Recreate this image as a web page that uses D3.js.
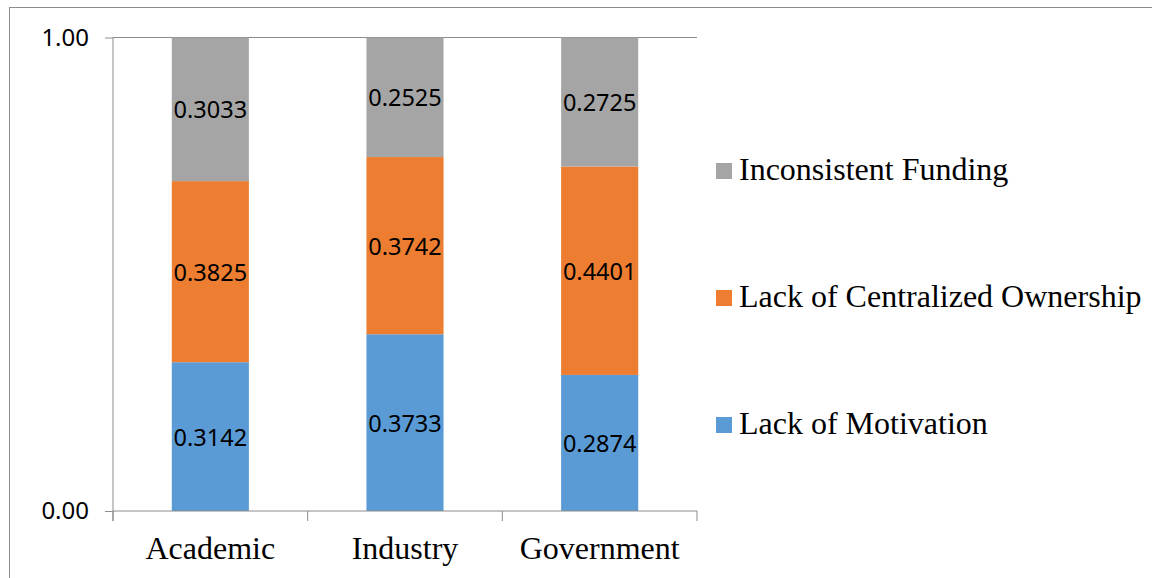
<!DOCTYPE html>
<html><head><meta charset="utf-8">
<script src="https://cdn.jsdelivr.net/npm/d3@7"></script>
<style>
html,body{margin:0;padding:0;background:#fff;}
svg{display:block;}
.serif{font-family:"Liberation Serif","Times New Roman",Times,Tinos,"DejaVu Serif",serif;}
.sans{font-family:"Noto Sans","Open Sans",sans-serif;}
</style></head>
<body>
<svg id="chart" width="1152" height="578"></svg>
<script>
const categories = ["Academic", "Industry", "Government"];
const seriesNames = ["Lack of Motivation", "Lack of Centralized Ownership", "Inconsistent Funding"];
const lackOfMotivation = [0.3142, 0.3733, 0.2874];
const lackOfOwnership = [0.3825, 0.3742, 0.4401];
const inconsistentFunding = [0.3033, 0.2525, 0.2725];
const yTickValues = [0, 1];
const colors = ["#5B9BD5", "#ED7D31", "#A5A5A5"];

const svg = d3.select("#chart");
const W = 1152, H = 578;
const plot = {left: 113, right: 697, top: 37.5, bottom: 511};

svg.append("rect").attr("x", 9.5).attr("y", 7.5).attr("width", W + 20).attr("height", H + 20)
  .attr("fill", "#fff").attr("stroke", "#8c8c8c").attr("stroke-width", 1);

const x = d3.scaleBand().domain(categories).range([plot.left, plot.right]).paddingInner(0.604).paddingOuter(0.302);
const y = d3.scaleLinear().domain([0, 1]).range([plot.bottom, plot.top]);

const table = categories.map((c, i) => ({
  cat: c,
  "Lack of Motivation": lackOfMotivation[i],
  "Lack of Centralized Ownership": lackOfOwnership[i],
  "Inconsistent Funding": inconsistentFunding[i]
}));
const stacked = d3.stack().keys(seriesNames)(table);

svg.append("line").attr("x1", plot.left).attr("x2", plot.right)
  .attr("y1", y(1)).attr("y2", y(1)).attr("stroke", "#8c8c8c").attr("stroke-width", 1);

stacked.forEach((s, si) => {
  const g = svg.append("g");
  g.selectAll("rect").data(s).enter().append("rect")
    .attr("x", d => x(d.data.cat))
    .attr("width", x.bandwidth())
    .attr("y", d => y(d[1]))
    .attr("height", d => y(d[0]) - y(d[1]))
    .attr("fill", colors[si]);
  g.selectAll("text").data(s).enter().append("text")
    .attr("class", "sans")
    .attr("x", d => x(d.data.cat) + x.bandwidth() / 2)
    .attr("y", d => (y(d[0]) + y(d[1])) / 2)
    .attr("text-anchor", "middle").attr("dominant-baseline", "central")
    .attr("font-size", 23.5)
    .attr("fill", "#000")
    .text(d => (d[1] - d[0]).toFixed(4));
});

const yAxis = d3.axisLeft(y).tickValues(yTickValues).tickFormat(d3.format(".2f")).tickSize(8).tickPadding(16);
const yg = svg.append("g").attr("transform", `translate(${plot.left},0)`).call(yAxis);
yg.attr("font-family", null).attr("font-size", null);
yg.select(".domain").attr("stroke", "#8c8c8c").attr("d", `M0,${plot.top}V${plot.bottom + 10}`);
yg.selectAll(".tick line").attr("stroke", "#8c8c8c");
yg.selectAll(".tick text").attr("class", "sans").attr("font-size", 24).attr("fill", "#000");

const xAxis = d3.axisBottom(x).tickSize(0).tickPadding(25);
const xg = svg.append("g").attr("transform", `translate(0,${plot.bottom})`).call(xAxis);
xg.attr("font-family", null).attr("font-size", null);
xg.select(".domain").attr("stroke", "#8c8c8c").attr("d", `M${plot.left},0H${plot.right}`);
xg.selectAll(".tick text").attr("class", "serif").attr("font-size", 32).attr("fill", "#000");
const boundaries = categories.map(c => x(c) - x.step() * x.paddingInner() / 2).concat([plot.right]);
xg.selectAll("line.bnd").data(boundaries).enter().append("line").attr("class", "bnd")
  .attr("x1", d => d).attr("x2", d => d).attr("y1", 0).attr("y2", 10).attr("stroke", "#8c8c8c");

const legendY = [434, 307, 180];
const lg = svg.append("g");
seriesNames.forEach((n, i) => {
  lg.append("rect").attr("x", 716).attr("y", legendY[i] - 17).attr("width", 16).attr("height", 16).attr("fill", colors[i]);
  lg.append("text").attr("class", "serif").attr("x", 739).attr("y", legendY[i])
    .attr("font-size", 32).attr("fill", "#000").text(n);
});
</script>
</body></html>
